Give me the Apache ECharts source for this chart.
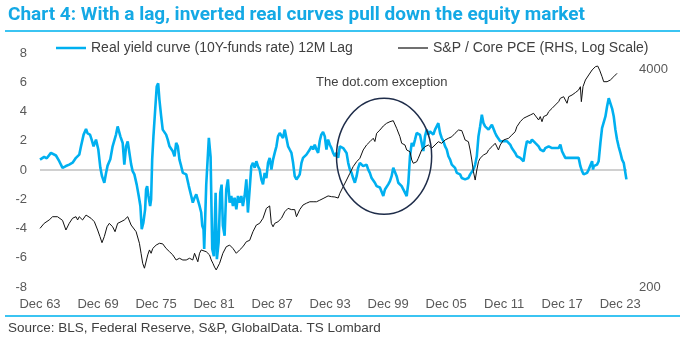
<!DOCTYPE html>
<html><head><meta charset="utf-8">
<script src="https://cdn.jsdelivr.net/npm/echarts@6/dist/echarts.min.js"></script>
<style>html,body{margin:0;padding:0;background:#fff}#c{width:700px;height:349px}</style>
</head><body><div id="c"></div>
<script>
// ---------------- DATA ----------------
const titleText = 'Chart 4: With a lag, inverted real curves pull down the equity market';
const sourceText = 'Source: BLS, Federal Reserve, S&P, GlobalData. TS Lombard';
const blueName = 'Real yield curve (10Y-funds rate) 12M Lag';
const blackName = 'S&P / Core PCE (RHS, Log Scale)';
const annotationText = 'The dot.com exception';

const blueYears = [1963.9,1964.33,1964.6,1965.03,1965.2,1965.55,1965.89,1966.23,1966.58,1966.92,1967.27,1967.62,1967.96,1968.14,1968.41,1968.66,1968.82,1969.07,1969.24,1969.44,1969.69,1969.93,1970.14,1970.31,1970.55,1970.73,1970.89,1971.17,1971.41,1971.76,1971.93,1972.21,1972.45,1972.62,1972.8,1972.97,1973.14,1973.32,1973.48,1973.66,1973.9,1974.11,1974.28,1974.42,1974.59,1974.77,1974.87,1974.98,1975.11,1975.29,1975.39,1975.5,1975.63,1975.81,1975.97,1976.12,1976.25,1976.43,1976.59,1976.77,1976.94,1977.11,1977.29,1977.46,1977.63,1977.81,1977.98,1978.15,1978.32,1978.5,1978.67,1978.84,1979.02,1979.29,1979.54,1979.7,1979.88,1980.06,1980.22,1980.4,1980.57,1980.68,1980.81,1980.88,1981.09,1981.36,1981.54,1981.71,1981.88,1982.06,1982.19,1982.37,1982.54,1982.68,1982.81,1982.99,1983.16,1983.33,1983.51,1983.68,1983.85,1984.02,1984.2,1984.37,1984.54,1984.72,1984.88,1985.06,1985.24,1985.4,1985.58,1985.75,1985.92,1986.1,1986.27,1986.44,1986.61,1986.79,1986.96,1987.13,1987.31,1987.48,1987.65,1987.83,1988.0,1988.17,1988.35,1988.51,1988.69,1988.87,1989.03,1989.21,1989.38,1989.55,1989.72,1989.9,1990.07,1990.24,1990.42,1990.58,1990.76,1990.94,1991.1,1991.28,1991.45,1991.62,1991.8,1991.97,1992.14,1992.31,1992.49,1992.66,1992.83,1992.99,1993.17,1993.35,1993.52,1993.69,1993.87,1994.04,1994.21,1994.39,1994.56,1994.73,1994.91,1995.08,1995.25,1995.42,1995.6,1995.77,1995.94,1996.12,1996.28,1996.46,1996.64,1996.8,1996.98,1997.15,1997.32,1997.5,1997.67,1997.84,1998.01,1998.19,1998.36,1998.53,1998.71,1998.88,1999.05,1999.23,1999.4,1999.57,1999.74,1999.91,2000.09,2000.26,2000.43,2000.6,2000.78,2000.95,2001.12,2001.3,2001.47,2001.64,2001.82,2001.99,2002.16,2002.34,2002.5,2002.68,2002.85,2003.02,2003.2,2003.37,2003.54,2003.71,2003.89,2004.06,2004.23,2004.41,2004.57,2004.75,2004.92,2005.09,2005.27,2005.44,2005.61,2005.79,2005.96,2006.13,2006.31,2006.48,2006.65,2006.82,2007.0,2007.17,2007.34,2007.51,2007.68,2007.86,2008.03,2008.2,2008.38,2008.55,2008.72,2008.9,2009.07,2009.24,2009.41,2009.59,2009.76,2009.93,2010.11,2010.28,2010.45,2010.63,2010.8,2010.97,2011.14,2011.31,2011.49,2011.66,2011.83,2012.0,2012.18,2012.35,2012.52,2012.69,2012.87,2013.04,2013.21,2013.38,2013.56,2013.73,2013.9,2014.08,2014.25,2014.42,2014.6,2014.77,2014.94,2015.11,2015.29,2015.46,2015.63,2015.81,2015.98,2016.15,2016.33,2016.5,2016.67,2016.85,2017.01,2017.19,2017.36,2017.53,2017.71,2017.88,2018.05,2018.22,2018.4,2018.57,2018.74,2018.92,2019.09,2019.26,2019.43,2019.6,2019.78,2019.95,2020.12,2020.3,2020.47,2020.64,2020.81,2020.99,2021.09,2021.16,2021.33,2021.5,2021.67,2021.85,2022.02,2022.19,2022.37,2022.54,2022.71,2022.88,2023.06,2023.23,2023.4,2023.57,2023.73,2023.92,2024.09,2024.26,2024.44,2024.54];
const blueValues = [0.71,0.9,0.8,1.17,1.25,0.99,0.6,0.15,0.27,0.37,0.5,0.83,1.05,1.62,2.42,2.8,2.5,2.42,2.08,1.62,2.08,1.4,0.15,-0.42,-0.87,-0.2,0.3,0.73,1.62,2.42,2.98,2.3,1.85,0.37,1.62,1.95,1.2,0.4,-0.08,-0.3,-1.0,-1.78,-2.46,-4.05,-3.6,-2.69,-1.33,-1.1,-1.78,-2.46,-2.0,0.71,2.3,4.12,5.7,5.93,4.8,3.66,2.76,2.83,2.42,2.08,1.62,1.73,1.28,0.94,1.85,1.62,0.71,0.26,-0.2,-0.08,-0.3,-1.1,-1.78,-2.23,-1.9,-1.67,-1.78,-2.46,-2.91,-3.82,-4.05,-5.4,-1.0,2.2,0.9,-5.4,-5.9,-1.55,-6.1,-4.95,-1.55,-1.0,-3.8,-4.5,-1.33,-0.64,-2.23,-1.78,-2.46,-1.9,-2.69,-1.78,-2.23,-1.78,-2.46,-1.78,-0.64,-2.91,-1.33,0.26,0.49,0.15,0.6,0.26,0.03,-0.64,-0.98,-0.2,-0.55,0.49,0.83,0.03,0.71,1.17,1.62,2.3,2.53,2.42,2.19,2.76,2.19,1.62,1.4,1.17,0.49,-0.42,-0.64,-0.5,-0.3,0.49,0.83,0.71,1.05,0.94,1.4,1.62,1.4,1.73,1.4,1.17,2.0,2.42,2.6,2.3,1.4,2.08,1.73,1.5,1.17,0.94,1.17,0.83,1.62,1.73,1.5,1.5,1.17,0.49,0.03,-0.2,-0.55,-0.87,-0.42,0.15,0.49,0.49,0.26,0.37,0.37,0.03,-0.2,-0.55,-0.42,-0.87,-1.1,-1.1,-1.2,-1.33,-1.78,-1.33,-1.2,-0.98,-0.76,-0.42,0.15,0.03,-0.42,-0.87,-0.76,-1.1,-1.33,-1.55,-1.78,-0.87,0.94,1.85,1.62,2.08,2.53,2.64,2.4,1.85,1.3,2.3,2.76,2.42,2.64,2.76,2.42,2.76,2.87,3.2,2.53,2.19,1.97,1.62,1.4,0.94,0.71,0.37,0.26,0.15,-0.2,-0.08,-0.3,-0.55,-0.42,-0.64,-0.76,-0.55,-0.3,-0.2,0.03,0.37,0.94,2.3,2.98,3.78,3.2,2.98,2.87,2.76,2.87,3.1,2.98,2.53,2.3,2.19,1.97,2.08,1.97,1.85,1.97,1.97,1.74,1.5,1.62,1.17,0.94,0.83,0.83,0.71,0.6,1.4,1.97,2.08,1.85,2.08,1.97,1.85,1.74,1.62,1.4,1.4,1.28,1.5,1.62,1.62,1.74,1.5,1.4,1.5,1.4,1.5,1.74,1.28,1.05,0.83,0.71,0.83,0.94,0.83,0.94,0.83,0.71,0.83,0.26,-0.08,-0.3,-0.42,-0.2,0.03,0.15,0.6,0.03,0.26,0.37,0.37,0.6,1.85,2.87,2.98,3.66,4.34,4.91,4.8,4.2,3.66,2.76,2.08,1.62,1.17,0.71,0.49,0.4,-0.64];

const blackYears = [1963.9,1964.33,1964.85,1965.2,1965.37,1965.71,1965.89,1966.23,1966.58,1966.92,1967.27,1967.62,1967.79,1967.96,1968.3,1968.66,1968.82,1969.17,1969.52,1969.86,1970.1,1970.31,1970.55,1970.83,1971.07,1971.41,1971.66,1971.93,1972.28,1972.62,1972.97,1973.32,1973.48,1973.84,1974.18,1974.35,1974.52,1974.7,1974.87,1975.04,1975.22,1975.39,1975.56,1975.73,1975.91,1976.25,1976.59,1976.94,1977.29,1977.63,1977.98,1978.32,1978.67,1979.02,1979.36,1979.7,1979.88,1980.06,1980.22,1980.4,1980.57,1980.74,1981.09,1981.43,1981.61,1981.78,1981.95,1982.12,1982.29,1982.47,1982.81,1983.16,1983.51,1983.85,1984.2,1984.54,1984.88,1985.24,1985.58,1985.92,1986.27,1986.61,1986.96,1987.31,1987.48,1987.65,1987.82,1988.0,1988.17,1988.51,1988.87,1989.21,1989.55,1989.9,1990.07,1990.24,1990.42,1990.58,1990.76,1990.94,1991.1,1991.45,1991.8,1992.14,1992.49,1992.83,1993.17,1993.35,1993.69,1994.04,1994.39,1994.73,1994.91,1995.25,1995.6,1995.94,1996.28,1996.64,1996.98,1997.32,1997.67,1998.01,1998.19,1998.36,1998.53,1998.71,1999.05,1999.4,1999.74,2000.09,2000.43,2000.78,2001.12,2001.3,2001.47,2001.64,2001.82,2001.99,2002.16,2002.34,2002.5,2002.68,2002.85,2003.02,2003.2,2003.37,2003.71,2004.06,2004.41,2004.75,2005.09,2005.44,2005.79,2006.13,2006.48,2006.82,2007.17,2007.34,2007.51,2007.68,2007.86,2008.03,2008.2,2008.38,2008.55,2008.72,2008.9,2009.07,2009.24,2009.41,2009.59,2009.76,2009.93,2010.11,2010.28,2010.45,2010.63,2010.8,2010.97,2011.14,2011.31,2011.49,2011.66,2011.83,2012.0,2012.35,2012.69,2013.04,2013.21,2013.56,2013.9,2014.25,2014.6,2014.94,2015.11,2015.46,2015.63,2015.81,2015.98,2016.33,2016.5,2016.85,2017.19,2017.53,2017.71,2017.88,2018.05,2018.22,2018.4,2018.57,2018.92,2019.26,2019.6,2019.78,2019.88,2020.05,2020.3,2020.64,2020.99,2021.33,2021.57,2021.77,2022.02,2022.19,2022.37,2022.54,2022.71,2022.88,2023.06,2023.23,2023.4,2023.57];
const blackValues = [448,480,503,526,515,526,538,500,438,480,515,526,503,526,503,538,551,515,491,438,400,368,400,458,480,458,428,480,491,503,526,469,458,428,365,318,277,259,262,311,333,318,340,333,356,365,362,340,325,311,290,297,290,290,297,290,318,311,283,318,333,340,325,311,290,277,263,253,248,277,318,348,356,340,318,333,348,373,380,428,469,480,515,590,603,610,480,458,480,491,515,563,590,580,590,580,526,515,580,590,618,633,646,646,646,660,675,693,700,693,690,680,726,795,871,955,1047,1121,1175,1317,1411,1476,1500,1547,1480,1657,1733,1832,1901,1944,1971,1775,1582,1444,1480,1411,1317,1340,1286,1148,1097,1071,1120,1175,1201,1317,1378,1411,1350,1411,1476,1444,1511,1547,1580,1657,1733,1750,1720,1620,1511,1547,1476,1317,1148,977,871,1000,1121,1175,1201,1229,1201,1260,1317,1290,1378,1411,1444,1411,1317,1411,1444,1511,1476,1547,1618,1694,1814,1944,2037,2085,2131,2180,2131,1990,2085,1944,2085,2131,2230,2336,2446,2560,2682,2620,2740,2682,2504,2740,2806,2900,3006,3145,2560,3145,3449,3694,3958,4141,4180,3950,3611,3369,3290,3369,3290,3449,3530,3611,3690,3780];

const xMin = 1963.9, xMax = 2024.6, xStep = 6;
const leftMin = -8, leftMax = 8, leftStep = 2;
const rightMin = 200, rightMax = 5000;
const rightLabels = [200, 4000];
const circleCenter = [1999.48, 0.94];   // annotation ellipse centre (year, LHS value)
const circleHalf = [4.92, 3.97];        // half width (years), half height (LHS units)

// ---------------- CHART ----------------
const FONT = "'Liberation Sans', Arial, sans-serif";
const TITLE_FONT = "bold 18px Roboto, 'Liberation Sans', sans-serif";
const chart = echarts.init(document.getElementById('c'), null, {renderer: 'canvas'});
const zip = (xs, ys) => xs.map((x, i) => [x, ys[i]]);

// fit the (condensed-looking) title to its width in the original
const mctx = document.createElement('canvas').getContext('2d');
mctx.font = TITLE_FONT;
const titleW = mctx.measureText(titleText).width || 600;
const titleScale = 577 / titleW;

chart.setOption({
  animation: false,
  backgroundColor: '#fff',
  textStyle: {fontFamily: FONT},
  legend: [{
    data: [blueName], left: 56, top: 41, padding: 0, itemWidth: 30, itemHeight: 2.5, icon: 'rect',
    textStyle: {fontSize: 14, color: '#404040', fontFamily: FONT}
  }, {
    data: [blackName], left: 398, top: 41, padding: 0, itemWidth: 30, itemHeight: 1.2, icon: 'rect',
    textStyle: {fontSize: 14, color: '#404040', fontFamily: FONT}
  }],
  grid: {left: 40, right: 73, top: 53, bottom: 62, containLabel: false},
  xAxis: {
    type: 'value', min: xMin, max: xMax, interval: xStep,
    axisLine: {show: false}, axisTick: {show: false}, splitLine: {show: false},
    axisLabel: {
      fontSize: 13, color: '#595959', margin: 11, showMaxLabel: false, showMinLabel: true,
      formatter: v => {
        const k = (v - xMin) / xStep;
        if (Math.abs(k - Math.round(k)) > 0.01) return '';
        const yr = Math.round(v - 0.9) % 100;
        return 'Dec ' + String(yr).padStart(2, '0');
      }
    }
  },
  yAxis: [{
    type: 'value', min: leftMin, max: leftMax, interval: leftStep,
    axisLine: {show: false}, axisTick: {show: false}, splitLine: {show: false},
    axisLabel: {fontSize: 13, color: '#595959', margin: 13}
  }, {
    type: 'log', logBase: 10, min: rightMin, max: rightMax, position: 'right',
    axisLine: {show: false}, axisTick: {show: false}, splitLine: {show: false},
    axisLabel: {fontSize: 13, color: '#595959', margin: 12, customValues: rightLabels,
      formatter: v => String(Math.round(v))}
  }],
  series: [{
    name: blueName, type: 'line', yAxisIndex: 0, data: zip(blueYears, blueValues),
    showSymbol: false, symbol: 'none', smooth: false,
    lineStyle: {color: '#00B0F0', width: 2.6}, itemStyle: {color: '#00B0F0'},
    z: 2,
    markLine: {
      silent: true, symbol: 'none', label: {show: false},
      lineStyle: {color: '#C0C0C0', width: 1.5, type: 'solid'},
      data: [{yAxis: 0}], z: 1
    }
  }, {
    name: blackName, type: 'line', yAxisIndex: 1, data: zip(blackYears, blackValues),
    showSymbol: false, symbol: 'none', smooth: false,
    lineStyle: {color: '#111111', width: 1}, itemStyle: {color: '#111111'},
    z: 3
  }]
});

const c0 = chart.convertToPixel({gridIndex: 0}, circleCenter);
const c1 = chart.convertToPixel({gridIndex: 0}, [circleCenter[0] + circleHalf[0], circleCenter[1] + circleHalf[1]]);
chart.setOption({
  graphic: [
    {type: 'text', x: 8, y: 15, scaleX: titleScale, silent: true,
      style: {text: titleText, font: TITLE_FONT, fill: '#14A9E5', textVerticalAlign: 'middle'}},
    {type: 'line', shape: {x1: 5, y1: 31, x2: 680, y2: 31}, style: {stroke: '#3BC4F2', lineWidth: 2}, silent: true},
    {type: 'line', shape: {x1: 5, y1: 316, x2: 680, y2: 316}, style: {stroke: '#3BC4F2', lineWidth: 2}, silent: true},
    {type: 'text', x: 8, y: 328, silent: true,
      style: {text: sourceText, font: "13.5px 'Liberation Sans', Arial, sans-serif", fill: '#404040', textVerticalAlign: 'middle'}},
    {type: 'ellipse', shape: {cx: c0[0], cy: c0[1], rx: c1[0] - c0[0], ry: c0[1] - c1[1]},
      style: {fill: 'none', stroke: '#1F2D4A', lineWidth: 1.5}, silent: true, z: 10},
    {type: 'text', x: 316, y: 82, style: {text: annotationText, font: "13px 'Liberation Sans', Arial, sans-serif",
      fill: '#404040', textVerticalAlign: 'middle'}, silent: true, z: 10}
  ]
});
</script>
</body></html>
